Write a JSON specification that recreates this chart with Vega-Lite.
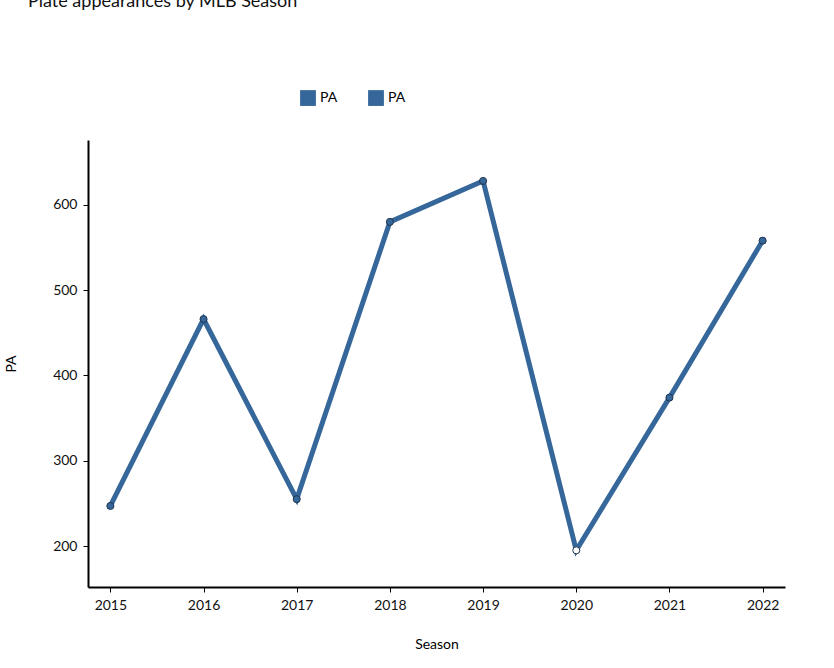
{
  "$schema": "https://vega.github.io/schema/vega-lite/v6.json",
  "width": 697,
  "height": 447,
  "autosize": "none",
  "padding": {"left": 88, "top": 140, "right": 49, "bottom": 81},
  "background": "white",
  "config": {"font": "Lato", "view": {"stroke": null}},
  "title": {
    "text": "Ketel Marte's Season PA",
    "subtitle": "Plate appearances by MLB Season",
    "anchor": "start",
    "frame": "group",
    "dx": -60,
    "offset": 78,
    "fontSize": 22,
    "fontWeight": "bold",
    "color": "#111",
    "subtitleFontSize": 18,
    "subtitleColor": "#111",
    "subtitlePadding": 6
  },
  "data": {
    "values": [
      {"Season": "2015", "PA": 247, "s": "PA"},
      {"Season": "2016", "PA": 466, "s": "PA"},
      {"Season": "2017", "PA": 255, "s": "PA"},
      {"Season": "2018", "PA": 580, "s": "PA"},
      {"Season": "2019", "PA": 628, "s": "PA"},
      {"Season": "2020", "PA": 195, "s": "PA2"},
      {"Season": "2021", "PA": 374, "s": "PA"},
      {"Season": "2022", "PA": 558, "s": "PA"}
    ]
  },
  "encoding": {
    "x": {
      "field": "Season", "type": "ordinal",
      "scale": {"type": "point", "padding": 0.24},
      "axis": {"labelAngle": 0, "domainColor": "black", "domainWidth": 2, "tickColor": "black", "labelFontSize": 14, "labelColor": "#111", "titleFontSize": 14, "titleFontWeight": "normal", "titlePadding": 25, "labelPadding": 6}
    },
    "y": {
      "field": "PA", "type": "quantitative",
      "scale": {"domain": [152, 676], "nice": false, "zero": false},
      "axis": {"values": [200, 300, 400, 500, 600], "grid": false, "domainColor": "black", "domainWidth": 2, "tickColor": "black", "labelFontSize": 14, "labelColor": "#111", "titleFontSize": 14, "titleFontWeight": "normal", "titlePadding": 34, "labelPadding": 6}
    }
  },
  "layer": [
    {
      "mark": {"type": "line", "color": "#36679a", "strokeWidth": 5},
      "encoding": {}
    },
    {
      "mark": {"type": "point", "filled": true, "size": 50, "stroke": "#1f3550", "strokeWidth": 1, "opacity": 1},
      "encoding": {
        "fill": {"condition": {"test": "datum.s == 'PA2'", "value": "white"}, "value": "#36679a"}
      }
    },
    {
      "mark": {"type": "point", "filled": true, "opacity": 0},
      "encoding": {
        "color": {
          "field": "s", "type": "nominal",
          "scale": {"domain": ["PA", "PA2"], "range": ["#36679a", "#36679a"]},
          "legend": {"title": null, "orient": "none", "legendX": 212, "legendY": -50, "direction": "horizontal", "symbolType": "square", "symbolSize": 250, "symbolOpacity": 1, "labelFontSize": 14, "labelExpr": "'PA'", "columnPadding": 30, "symbolStrokeWidth": 0}
        }
      }
    }
  ]
}
